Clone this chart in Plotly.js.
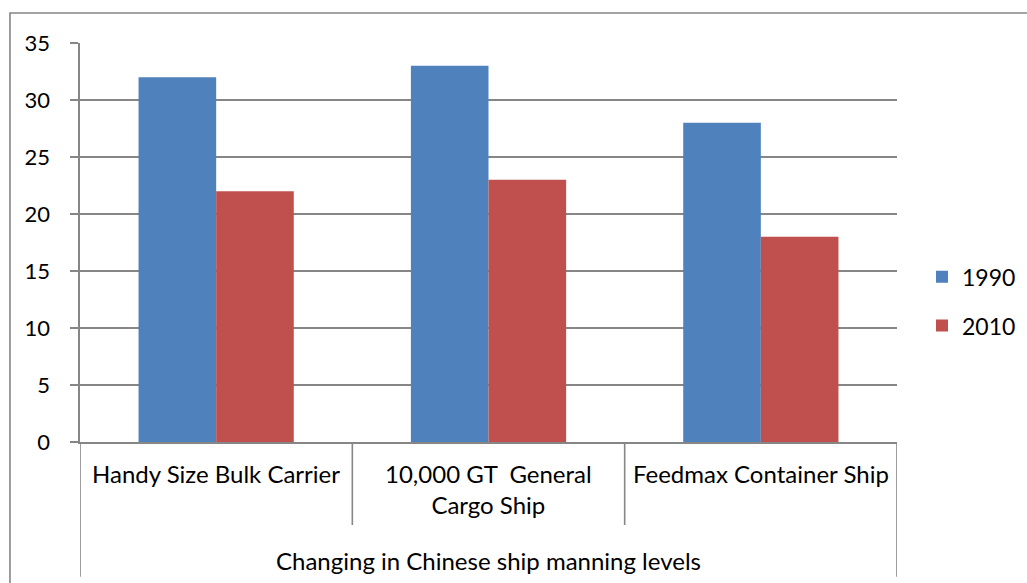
<!DOCTYPE html>
<html>
<head>
<meta charset="utf-8">
<script src="https://cdn.plot.ly/plotly-3.0.1.min.js"></script>
<style>
  html, body { margin: 0; padding: 0; background: #ffffff; }
  #chart { width: 1027px; height: 583px; }
</style>
</head>
<body>
<div id="chart"></div>
<script>
// Ship types and crew sizes for each year
const shipTypes = ['Handy Size Bulk Carrier', '10,000 GT  General Cargo Ship', 'Feedmax Container Ship'];
const shipLabels = ['Handy Size Bulk Carrier', '10,000 GT  General<br>Cargo Ship', 'Feedmax Container Ship'];
const crew1990 = [32, 33, 28];
const crew2010 = [22, 23, 18];
const groupTitle = 'Changing in Chinese ship manning levels';
const yTicks = [0, 5, 10, 15, 20, 25, 30, 35];

const FONT = 'Lato, "Open Sans", sans-serif';
const GRID = '#868686';

const traces = [
  { type: 'bar', name: '1990', x: shipTypes, y: crew1990, marker: { color: '#4F81BD' }, legendgroup: 'a', hoverinfo: 'skip' },
  { type: 'bar', name: '2010', x: shipTypes, y: crew2010, marker: { color: '#C0504D' }, legendgroup: 'b', hoverinfo: 'skip' }
];

// vertical dividers below the category axis
const shapes = [];
const n = shipTypes.length;
for (let i = 0; i <= n; i++) {
  const edge = (i === 0 || i === n);
  shapes.push({
    type: 'line', xref: 'x', yref: 'paper',
    x0: i - 0.5, x1: i - 0.5,
    y0: 0, y1: edge ? -0.338 : -0.208,
    line: { color: GRID, width: 1.6 }
  });
}
// outer chart frame
shapes.push({
  type: 'rect', xref: 'paper', yref: 'paper',
  x0: -0.0857, x1: 1.25, y0: -0.5, y1: 1.0752,
  line: { color: GRID, width: 1.6 }, fillcolor: 'rgba(0,0,0,0)'
});

const annotations = shipTypes.map((c, i) => ({
  x: c, xref: 'x', y: -0.038, yref: 'paper', yanchor: 'top',
  text: shipLabels[i], showarrow: false, align: 'center',
  font: { family: FONT, size: 24, color: '#000' }
}));
annotations.push({
  x: 0.5, xref: 'paper', y: -0.298, yref: 'paper', yanchor: 'middle',
  text: groupTitle, showarrow: false,
  font: { family: FONT, size: 24, color: '#000' }
});

const layout = {
  width: 1027, height: 583,
  margin: { l: 80, r: 130, t: 43, b: 141, pad: 0, autoexpand: false },
  paper_bgcolor: '#ffffff', plot_bgcolor: '#ffffff',
  font: { family: FONT, size: 22, color: '#000' },
  barmode: 'group', bargap: 0.43, bargroupgap: 0,
  showlegend: true,
  legend: {
    x: 1.0306, xanchor: 'left', y: 0.468, yanchor: 'top',
    font: { family: FONT, size: 23, color: '#000' },
    traceorder: 'grouped', tracegroupgap: 16,
    bgcolor: 'rgba(0,0,0,0)'
  },
  xaxis: {
    type: 'category', range: [-0.5, 2.5],
    showticklabels: false, ticks: '', showgrid: false,
    showline: true, linecolor: GRID, linewidth: 1.6, zeroline: false, fixedrange: true
  },
  yaxis: {
    range: [0, 35], tickvals: yTicks, ticktext: yTicks.map(String),
    showgrid: true, gridcolor: GRID, gridwidth: 1.6,
    showline: true, linecolor: GRID, linewidth: 1.6,
    ticks: 'outside', ticklen: 8, tickcolor: GRID, tickwidth: 1.6,
    ticklabelstandoff: 16, zeroline: false, fixedrange: true,
    tickfont: { family: FONT, size: 22, color: '#000' }
  },
  shapes: shapes,
  annotations: annotations
};

Plotly.newPlot('chart', traces, layout, { staticPlot: true, displayModeBar: false });
</script>
</body>
</html>
